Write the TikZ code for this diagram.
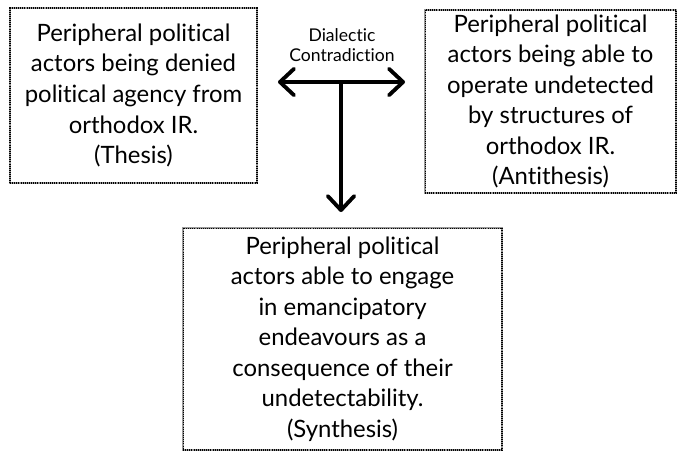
\documentclass[tikz,border=0pt]{standalone}
\usepackage{fontspec}
\setmainfont{Lato}[Ligatures={NoCommon}]
\usetikzlibrary{arrows.meta}

\begin{document}
\begin{tikzpicture}[x=0.02cm,y=-0.02cm,>={Straight Barb[length=8pt,width=15pt,round]}]
\tikzstyle{box}=[draw=gray!80,line width=1.1pt,postaction={draw=black,line width=0.6pt,dash pattern=on 0.5pt off 0.7pt},align=center,font=\fontsize{13.6}{17.4}\selectfont,inner sep=0pt]
\useasboundingbox (0,0) rectangle (678,451);
\node[box,minimum width=4.94cm,minimum height=3.5cm] (thesis) at (133.5,95.5) {Peripheral political\\actors being denied\\political agency from\\orthodox IR.\\(Thesis)};
\node[box,minimum width=5.02cm,minimum height=3.66cm] (antithesis) at (550.5,101.5) {Peripheral political\\actors being able to\\operate undetected\\by structures of\\orthodox IR.\\(Antithesis)};
\node[box,minimum width=6.38cm,minimum height=4.44cm] (synthesis) at (342.5,339) {Peripheral political\\actors able to engage\\in emancipatory\\endeavours as a\\consequence of their\\undetectability.\\(Synthesis)};
\node[align=center,font=\fontsize{10}{11.5}\selectfont] (label) at (342,45) {Dialectic\\Contradiction};
\coordinate (left) at (278,82);
\coordinate (right) at (405,82);
\coordinate (mid) at (341,82);
\draw[<->,line width=2.2pt] (left) -- (right);
\draw[->,line width=2.2pt,shorten >=0.3cm] (mid) -- (mid |- synthesis.north);
\end{tikzpicture}
\end{document}
